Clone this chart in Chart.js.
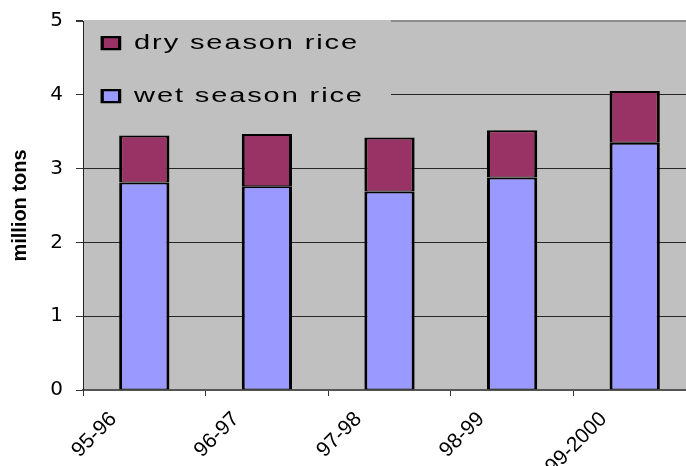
<!DOCTYPE html>
<html>
<head>
<meta charset="utf-8">
<script src="https://cdn.jsdelivr.net/npm/chart.js"></script>
<style>
  html, body { margin: 0; padding: 0; background: #fff; overflow: hidden; }
  #wrap { width: 696px; height: 466px; position: relative; }
</style>
</head>
<body>
<div id="wrap"><canvas id="chart"></canvas></div>
<script>
const seasons = ['95-96', '96-97', '97-98', '98-99', '99-2000'];
const wetRice = [2.81, 2.76, 2.69, 2.88, 3.35];
const dryRice = [0.64, 0.71, 0.73, 0.64, 0.70];
const yTicks = [0, 1, 2, 3, 4, 5];

const plotGray = '#C0C0C0';
const barEdges = { top: 2, bottom: 1, left: 3, right: 3 };

// gray plot area behind everything
const plotBackground = {
  id: 'plotBackground',
  beforeDraw(chart) {
    const { ctx, chartArea: a } = chart;
    ctx.save();
    ctx.fillStyle = plotGray;
    ctx.fillRect(a.left, a.top, a.right - a.left, a.bottom - a.top);
    ctx.restore();
  }
};

// legend sits inside the plot on its own gray box, stretched wide like the original
const legendBox = {
  id: 'legendBox',
  afterInit(chart) {
    const legend = chart.legend;
    const draw = legend.draw.bind(legend);
    legend.draw = function () {
      const ctx = chart.ctx, a = chart.chartArea;
      ctx.save();
      ctx.fillStyle = plotGray;
      ctx.fillRect(a.left + 1, a.top - 1, 307, 102);
      ctx.translate(-66, a.top - 21);
      ctx.scale(1.45, 1);
      ctx.letterSpacing = '1.3px';
      draw();
      ctx.restore();
    };
  }
};

new Chart(document.getElementById('chart'), {
  type: 'bar',
  data: {
    labels: seasons,
    datasets: [
      {
        label: 'wet season rice',
        data: wetRice,
        backgroundColor: '#9999FF',
        borderColor: '#000',
        borderWidth: barEdges,
        borderSkipped: false
      },
      {
        label: 'dry season rice',
        data: dryRice,
        backgroundColor: '#993366',
        borderColor: '#000',
        borderWidth: barEdges,
        borderSkipped: false
      }
    ]
  },
  options: {
    responsive: true,
    maintainAspectRatio: false,
    animation: false,
    layout: { padding: { top: 21, right: 0, left: 0, bottom: 0 } },
    datasets: { bar: { categoryPercentage: 1, barPercentage: 0.41, inflateAmount: 0 } },
    plugins: {
      tooltip: { enabled: false },
      legend: {
        position: 'chartArea',
        align: 'start',
        reverse: true,
        labels: {
          color: '#000',
          font: { family: 'Liberation Sans, Arial', size: 20 },
          boxWidth: 12,
          boxHeight: 12,
          padding: 33,
          useBorderRadius: false
        }
      }
    },
    scales: {
      x: {
        stacked: true,
        offset: true,
        grid: { offset: true, drawOnChartArea: false, tickLength: 6, tickColor: '#333' },
        border: { color: '#555', width: 2 },
        ticks: {
          color: '#000',
          font: { family: 'Liberation Sans, Arial', size: 21 },
          maxRotation: 45,
          minRotation: 45,
          autoSkip: false,
          labelOffset: -31,
          padding: 11
        },
        afterFit(scale) { scale.height = 76; }
      },
      y: {
        stacked: true,
        min: 0,
        max: 5,
        afterBuildTicks(scale) { scale.ticks = yTicks.map(v => ({ value: v })); },
        grid: {
          color: ctx => ctx.tick && ctx.tick.value === 5 ? '#8c8c8c' : '#262626',
          lineWidth: ctx => ctx.tick && ctx.tick.value === 5 ? 2 : 1,
          tickLength: 7,
          tickColor: '#333'
        },
        border: { color: '#222', width: 1 },
        ticks: {
          color: '#000',
          font: { family: 'DejaVu Sans', size: 20 },
          padding: 13
        },
        title: {
          display: true,
          text: 'million tons',
          color: '#000',
          font: { family: 'Liberation Sans, Arial', size: 20, weight: 'bold' },
          padding: { top: 8, bottom: 0 }
        },
        afterFit(scale) {
          scale.width = 83;
          scale.paddingTop = 0;
          scale.paddingBottom = 0;
        }
      }
    }
  },
  plugins: [plotBackground, legendBox]
});
</script>
</body>
</html>
